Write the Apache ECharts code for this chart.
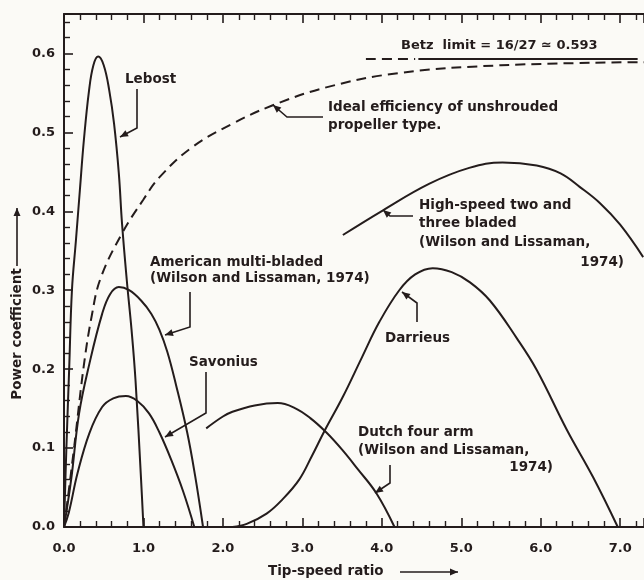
<!DOCTYPE html>
<html>
<head>
<meta charset="utf-8">
<script src="https://cdn.jsdelivr.net/npm/echarts@6/dist/echarts.min.js"></script>
<style>
  html, body { margin: 0; padding: 0; background: #fbfaf6; }
  #chart { width: 644px; height: 580px; }
</style>
</head>
<body>
<div id="chart"></div>
<script>
// tick labels
var xTickLabels = ['0.0', '1.0', '2.0', '3.0', '4.0', '5.0', '6.0', '7.0'];
var yTickLabels = ['0.0', '0.1', '0.2', '0.3', '0.4', '0.5', '0.6'];

// curves, [tip-speed ratio, power coefficient]
var lebost = [[0, 0], [0.03, 0.1], [0.065, 0.2], [0.1, 0.3], [0.15, 0.363], [0.2, 0.427], [0.25, 0.49],
    [0.315, 0.553], [0.37, 0.585], [0.43, 0.596], [0.5, 0.585], [0.57, 0.553], [0.63, 0.511],
    [0.69, 0.448], [0.73, 0.385], [0.79, 0.313], [0.85, 0.25], [0.9, 0.186], [0.97, 0.06], [1.0, 0]];
var idealProp = [[0, 0], [0.04, 0.03], [0.13, 0.103], [0.25, 0.205], [0.35, 0.268], [0.46, 0.315],
    [0.73, 0.372], [1.0, 0.415], [1.2, 0.443], [1.61, 0.481], [2.12, 0.511], [2.62, 0.534],
    [3.3, 0.557], [4.2, 0.575], [5.5, 0.585], [7.3, 0.589]];
var betzDashed = [[3.8, 0.593], [4.42, 0.593]];
var betzSolid = [[4.46, 0.593], [7.22, 0.593]];
var americanMulti = [[0, 0], [0.09, 0.06], [0.19, 0.144], [0.32, 0.207], [0.48, 0.27], [0.58, 0.295],
    [0.69, 0.304], [0.82, 0.3], [0.97, 0.287], [1.1, 0.27], [1.2, 0.25], [1.3, 0.222],
    [1.41, 0.18], [1.55, 0.12], [1.65, 0.065], [1.75, 0]];
var savonius = [[0, 0], [0.06, 0.018], [0.17, 0.068], [0.32, 0.119], [0.48, 0.152], [0.62, 0.163],
    [0.78, 0.166], [0.92, 0.16], [1.07, 0.144], [1.2, 0.12], [1.35, 0.085], [1.5, 0.045], [1.64, 0]];
var dutchFourArm = [[1.79, 0.125], [2.0, 0.14], [2.12, 0.146], [2.4, 0.154], [2.69, 0.157],
    [2.9, 0.151], [3.1, 0.138], [3.3, 0.12], [3.5, 0.098], [3.7, 0.073], [3.93, 0.043], [4.16, 0]];
var darrieus = [[2.12, 0], [2.3, 0.004], [2.55, 0.017], [2.75, 0.035], [2.96, 0.06], [3.12, 0.09],
    [3.28, 0.122], [3.51, 0.165], [3.75, 0.215], [3.97, 0.26], [4.22, 0.3], [4.42, 0.32],
    [4.64, 0.328], [4.88, 0.323], [5.11, 0.31], [5.36, 0.287], [5.7, 0.239], [5.95, 0.199],
    [6.33, 0.123], [6.66, 0.063], [6.97, 0]];
var highSpeed = [[3.51, 0.37], [4.01, 0.401], [4.6, 0.435], [5.1, 0.455], [5.52, 0.462],
    [5.95, 0.458], [6.25, 0.448], [6.49, 0.431], [6.75, 0.41], [7.0, 0.383], [7.29, 0.342]];

var ink = '#241c1c';
var font = 'bold 13.5px "DejaVu Sans"';

function curve(name, data, dashed) {
    return {
        name: name,
        type: 'line',
        data: data,
        smooth: 0.4,
        symbol: 'none',
        silent: true,
        lineStyle: { color: ink, width: 2, type: dashed ? [10, 6] : 'solid' }
    };
}

function label(text, x, y, align, f) {
    return {
        type: 'text', x: x, y: y, silent: true,
        style: { text: text, font: f || font, fill: ink, align: align || 'left', verticalAlign: 'middle' }
    };
}

// leader line ending in a small arrow head
function leader(points) {
    var n = points.length;
    var a = points[n - 2], b = points[n - 1];
    var ang = Math.atan2(b[1] - a[1], b[0] - a[0]);
    var l = 8, w = 3.5;
    var bx = b[0] - l * Math.cos(ang), by = b[1] - l * Math.sin(ang);
    return [{
        type: 'polyline', silent: true,
        shape: { points: points },
        style: { stroke: ink, lineWidth: 1.6, fill: null }
    }, {
        type: 'polygon', silent: true,
        shape: { points: [b, [bx - w * Math.sin(ang), by + w * Math.cos(ang)], [bx + w * Math.sin(ang), by - w * Math.cos(ang)]] },
        style: { fill: ink }
    }];
}

var graphics = [
    label('Lebost', 125, 79),
    label('Ideal efficiency of unshrouded', 328, 107),
    label('propeller type.', 328, 125),
    label('Betz  limit = 16/27 \u2243 0.593', 401, 46, 'left', 'bold 13px "DejaVu Sans"'),
    label('High-speed two and', 419, 205),
    label('three bladed', 419, 223),
    label('(Wilson and Lissaman,', 419, 242),
    label('1974)', 624, 262, 'right'),
    label('American multi-bladed', 150, 262),
    label('(Wilson and Lissaman, 1974)', 150, 278),
    label('Savonius', 189, 362),
    label('Darrieus', 385, 338),
    label('Dutch four arm', 358, 432),
    label('(Wilson and Lissaman,', 358, 450),
    label('1974)', 553, 467, 'right'),
    label('Tip-speed ratio', 268, 571),
    {
        type: 'text', x: 17, y: 334, rotation: Math.PI / 2, silent: true,
        style: { text: 'Power coefficient', font: font, fill: ink, align: 'center', verticalAlign: 'middle' }
    }
];
graphics = graphics
    .concat(leader([[137, 89], [137, 128], [120, 137]]))
    .concat(leader([[323, 117], [287, 117], [273, 105]]))
    .concat(leader([[413, 216], [390, 216], [383, 210]]))
    .concat(leader([[417, 322], [417, 303], [402, 292]]))
    .concat(leader([[190, 292], [190, 327], [165, 335]]))
    .concat(leader([[206, 372], [206, 413], [165, 437]]))
    .concat(leader([[390, 465], [390, 483], [375, 493]]))
    .concat(leader([[400, 572], [458, 572]]))
    .concat(leader([[17, 266], [17, 208]]));

function tickText(list, v, step) {
    var i = Math.round(v / step);
    return Math.abs(v - i * step) < 1e-6 ? (list[i] || '') : '';
}

var axisCommon = {
    type: 'value',
    axisLine: { show: true, lineStyle: { color: ink, width: 2 } },
    axisTick: { show: true, inside: true, length: 9, lineStyle: { color: ink, width: 1.6 } },
    minorTick: { show: true, splitNumber: 5, length: 6, lineStyle: { color: ink, width: 1.4 } },
    splitLine: { show: false },
    minorSplitLine: { show: false }
};

var option = {
    backgroundColor: '#fbfaf6',
    animation: false,
    grid: { left: 64, right: 0, top: 14, bottom: 53, containLabel: false, outerBoundsMode: 'none' },
    xAxis: [
        Object.assign({}, axisCommon, {
            position: 'bottom', min: 0, max: 7.3, interval: 1,
            axisLabel: {
                color: ink, fontWeight: 'bold', fontSize: 13, fontFamily: 'DejaVu Sans',
                margin: 15, showMaxLabel: false,
                formatter: function (v) { return tickText(xTickLabels, v, 1); }
            }
        }),
        Object.assign({}, axisCommon, {
            position: 'top', min: 0, max: 7.3, interval: 1,
            axisLabel: { show: false }
        })
    ],
    yAxis: Object.assign({}, axisCommon, {
        min: 0, max: 0.65, interval: 0.1,
        axisLabel: {
            color: ink, fontWeight: 'bold', fontSize: 13, fontFamily: 'DejaVu Sans',
            margin: 9, showMaxLabel: false,
            formatter: function (v) { return tickText(yTickLabels, v, 0.1); }
        }
    }),
    series: [
        curve('Lebost', lebost),
        curve('Ideal efficiency of unshrouded propeller type', idealProp, true),
        curve('Betz limit dashed', betzDashed, true),
        curve('Betz limit', betzSolid),
        curve('American multi-bladed', americanMulti),
        curve('Savonius', savonius),
        curve('Dutch four arm', dutchFourArm),
        curve('Darrieus', darrieus),
        curve('High-speed two and three bladed', highSpeed)
    ],
    graphic: graphics
};

var myChart = echarts.init(document.getElementById('chart'));
myChart.setOption(option);
</script>
</body>
</html>
